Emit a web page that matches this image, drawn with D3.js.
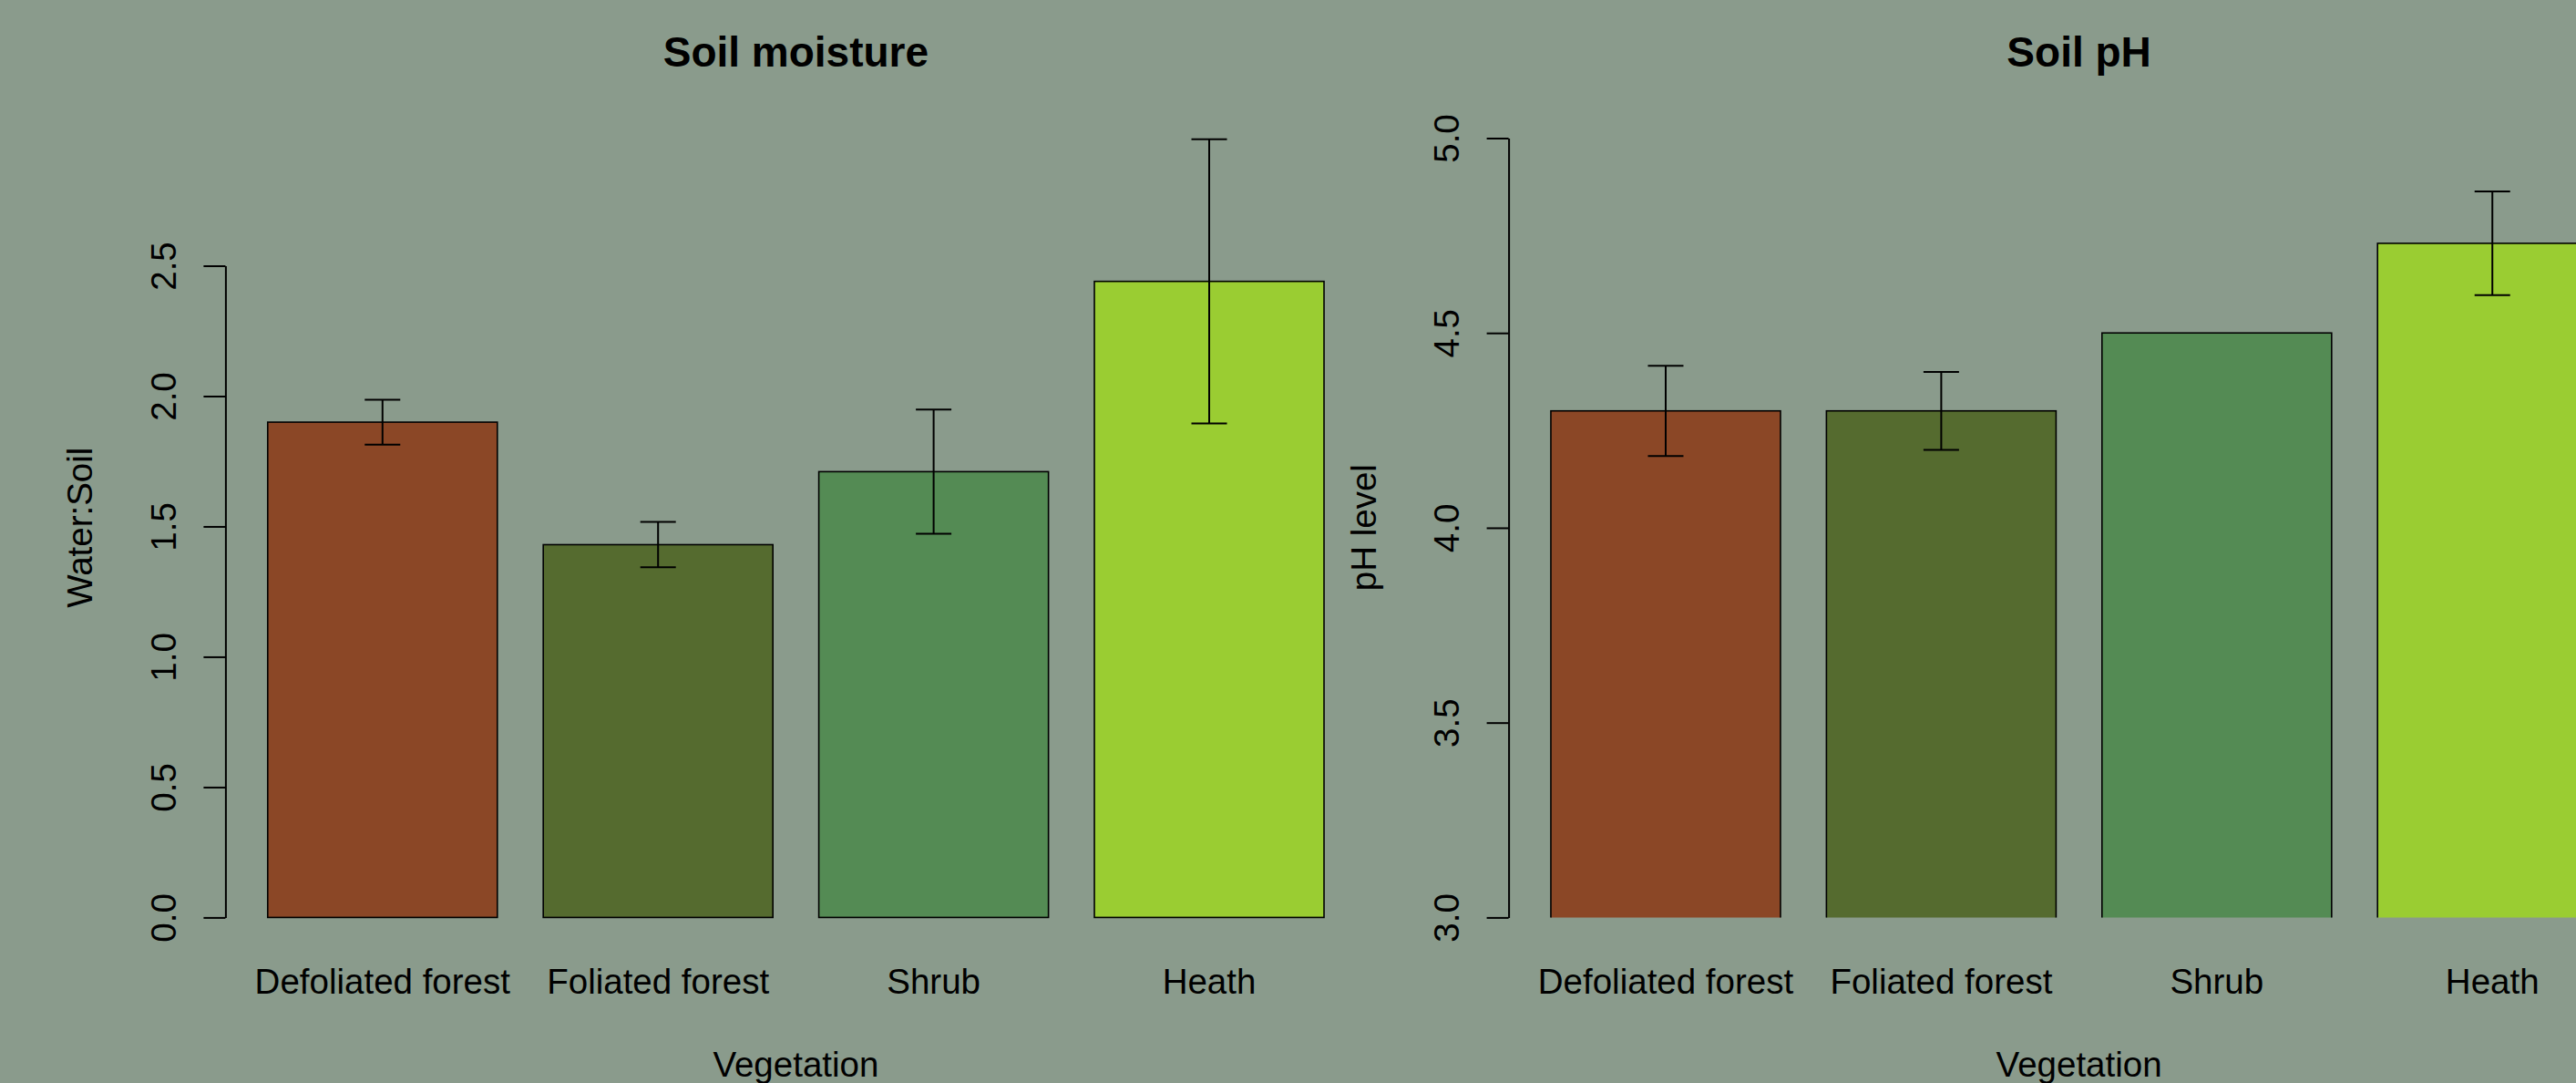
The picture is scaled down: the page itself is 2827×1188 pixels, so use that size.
<!DOCTYPE html>
<html>
<head>
<meta charset="utf-8">
<script src="https://cdn.jsdelivr.net/npm/d3@7"></script>
<style>
  html, body { margin: 0; padding: 0; background: #8a9b8c; }
  svg text { font-family: "Liberation Sans", Arial, sans-serif; fill: #000; }
</style>
</head>
<body>
<div id="chart"></div>
<script>
var width = 2827,
  height = 1188;

// data
var vegetation = ["Defoliated forest", "Foliated forest", "Shrub", "Heath"];
var barColours = ["#8b4726", "#556b2f", "#548b54", "#9acd32"];

var moistureMean = [1.90, 1.43, 1.71, 2.44];
var moistureSE = [0.086, 0.087, 0.238, 0.545];
var moistureTicks = [0, 0.5, 1, 1.5, 2, 2.5];

var phMean = [4.30, 4.30, 4.50, 4.73];
var phSE = [0.116, 0.100, 0, 0.133];
var phTicks = [3, 3.5, 4, 4.5, 5];

var svg = d3.select("#chart").append("svg")
  .attr("width", width)
  .attr("height", height);

svg.append("rect")
  .attr("width", width)
  .attr("height", height)
  .attr("fill", "#8a9b8c");

var baseY = 1006.4;

function drawPanel(opt) {
  var g = svg.append("g");

  var x = d3.scaleBand()
    .domain(vegetation)
    .range([opt.left, opt.left + 1252])
    .paddingInner(0.2 / 1.2)
    .paddingOuter(0.184 / 1.2);

  var y = d3.scaleLinear()
    .domain([opt.ticks[0], opt.ticks[opt.ticks.length - 1]])
    .range([baseY, opt.top]);

  var mid = opt.left + 626;

  var clipId = "clip" + opt.id;
  g.append("clipPath").attr("id", clipId)
    .append("rect")
    .attr("x", opt.left - 10).attr("y", 0)
    .attr("width", 1300).attr("height", baseY + (opt.clipBottom ? 0 : 2));

  g.append("g")
    .attr("clip-path", "url(#" + clipId + ")")
    .selectAll("rect")
    .data(opt.means)
    .enter().append("rect")
      .attr("x", function(d, i) { return x(vegetation[i]); })
      .attr("y", function(d) { return y(d); })
      .attr("width", x.bandwidth())
      .attr("height", function(d) { return baseY - y(d) + (opt.clipBottom ? 4 : 0); })
      .attr("fill", function(d, i) { return barColours[i]; })
      .attr("stroke", "#000")
      .attr("stroke-width", 1.6);

  // error bars
  var err = g.append("g")
    .attr("stroke", "#000")
    .attr("stroke-width", 2);
  opt.means.forEach(function(m, i) {
    var se = opt.se[i];
    if (!se) return;
    var cx = x(vegetation[i]) + x.bandwidth() / 2;
    var y0 = y(m - se), y1 = y(m + se);
    err.append("line").attr("x1", cx).attr("x2", cx).attr("y1", y0).attr("y2", y1);
    err.append("line").attr("x1", cx - 19.5).attr("x2", cx + 19.5).attr("y1", y0).attr("y2", y0);
    err.append("line").attr("x1", cx - 19.5).attr("x2", cx + 19.5).attr("y1", y1).attr("y2", y1);
  });

  var axis = g.append("g")
    .attr("transform", "translate(" + opt.left + ",0)")
    .call(d3.axisLeft(y)
      .tickValues(opt.ticks)
      .tickSize(24)
      .tickSizeOuter(0)
      .tickFormat(d3.format(".1f")));

  axis.selectAll("path, line")
    .attr("stroke", "#000")
    .attr("stroke-width", 2);
  axis.selectAll("text")
    .attr("x", 0)
    .attr("y", -54.5)
    .attr("dy", null)
    .attr("transform", "rotate(-90)")
    .attr("text-anchor", "middle")
    .attr("fill", "#000")
    .style("font-family", "'Liberation Sans', Arial, sans-serif")
    .style("font-size", "38.5px");

  // category names
  g.selectAll(".cat")
    .data(vegetation)
    .enter().append("text")
      .attr("class", "cat")
      .attr("x", function(d) { return x(d) + x.bandwidth() / 2; })
      .attr("y", 1090)
      .attr("text-anchor", "middle")
      .style("font-size", "38.5px")
      .text(function(d) { return d; });

  g.append("text")
    .attr("x", mid)
    .attr("y", 73)
    .attr("text-anchor", "middle")
    .style("font-size", "46px")
    .style("font-weight", "bold")
    .text(opt.title);

  g.append("text")
    .attr("x", mid)
    .attr("y", 1181)
    .attr("text-anchor", "middle")
    .style("font-size", "38.5px")
    .text("Vegetation");

  g.append("text")
    .attr("transform", "translate(" + (opt.left - 146) + ",578.7) rotate(-90)")
    .attr("text-anchor", "middle")
    .style("font-size", "38.5px")
    .text(opt.ylab);
}

drawPanel({
  id: 1,
  left: 247.4,
  top: 291.5,
  ticks: moistureTicks,
  means: moistureMean,
  se: moistureSE,
  title: "Soil moisture",
  ylab: "Water:Soil",
  clipBottom: false
});

drawPanel({
  id: 2,
  left: 1655.6,
  top: 151.5,
  ticks: phTicks,
  means: phMean,
  se: phSE,
  title: "Soil pH",
  ylab: "pH level",
  clipBottom: true
});
</script>
</body>
</html>
